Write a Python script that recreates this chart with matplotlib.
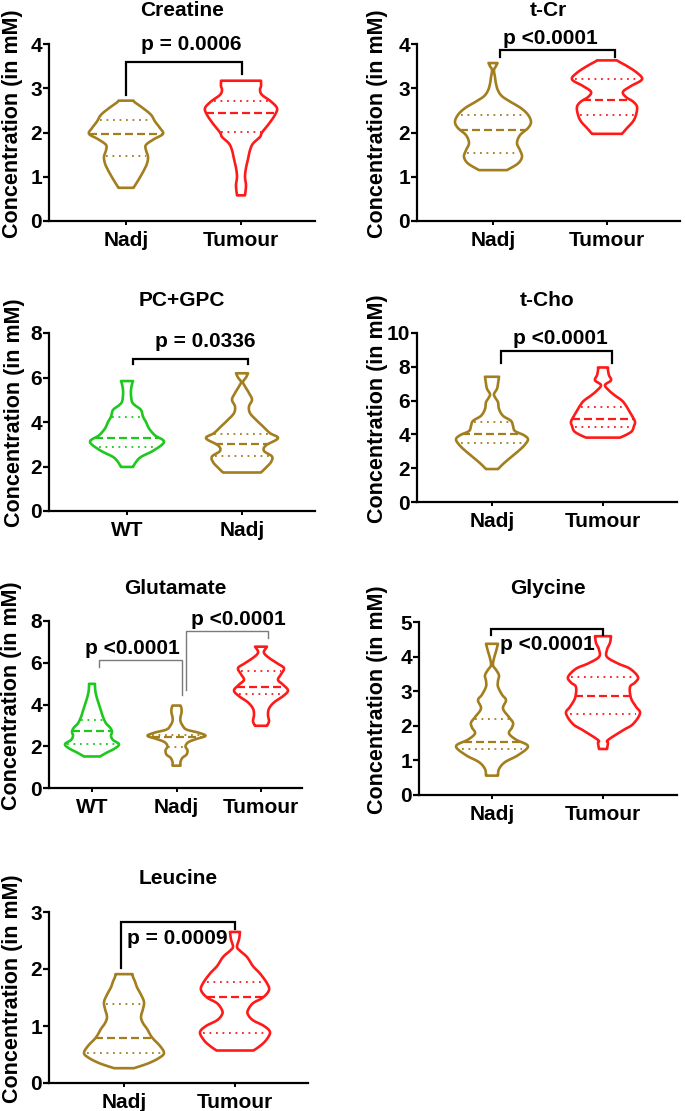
import numpy as np
import matplotlib
matplotlib.use("Agg")
import matplotlib.pyplot as plt

plt.rcParams['font.family'] = ['Liberation Sans', 'DejaVu Sans']
plt.rcParams['font.weight'] = 'bold'

OLIVE = '#A27E1E'
GREEN = '#1EC81E'
RED = '#FF1A1A'

YLABEL = 'Concentration (in mM)'

# ---------------- data (profiles: y levels, density/half-width, quartiles [q1, median, q3]) ----
creatine_groups = ['Nadj', 'Tumour']
creatine_nadj_y = [0.75, 0.95, 1.15, 1.3, 1.45, 1.6, 1.72, 1.85, 1.97, 2.1, 2.25, 2.4, 2.55, 2.68, 2.72]
creatine_nadj_w = [7.5, 13, 18, 21, 22, 20, 20, 28, 37, 34, 29, 25, 17, 9, 7.5]
creatine_nadj_q = [1.47, 1.97, 2.28]
creatine_tum_y = [0.58, 0.8, 1.0, 1.2, 1.4, 1.6, 1.75, 1.9, 2.0, 2.2, 2.4, 2.55, 2.7, 2.85, 2.96, 3.05, 3.17]
creatine_tum_w = [4, 5, 4, 5, 7, 9, 12, 19, 21, 28, 34, 36, 30, 21, 19, 20, 20]
creatine_tum_q = [2.01, 2.44, 2.71]

tcr_groups = ['Nadj', 'Tumour']
tcr_nadj_y = [1.15, 1.3, 1.45, 1.6, 1.76, 1.94, 2.1, 2.24, 2.4, 2.55, 2.7, 2.82, 2.95, 3.1, 3.25, 3.41, 3.5, 3.57]
tcr_nadj_w = [14, 25, 29, 27, 24, 27, 35, 38, 35, 28, 17, 9, 5, 3, 2, 1, 3, 4.5]
tcr_nadj_q = [1.54, 2.06, 2.40]
tcr_tum_y = [1.97, 2.1, 2.25, 2.4, 2.58, 2.7, 2.8, 2.92, 3.05, 3.2, 3.35, 3.5, 3.6, 3.63]
tcr_tum_w = [15, 20, 26, 29, 30, 26, 19, 16, 24, 35, 30, 20, 12, 10]
tcr_tum_q = [2.40, 2.73, 3.21]

pcgpc_groups = ['WT', 'Nadj']
pcgpc_wt_y = [1.98, 2.2, 2.43, 2.73, 3.11, 3.4, 3.71, 4.0, 4.24, 4.54, 4.75, 4.91, 5.2, 5.44, 5.7, 5.84]
pcgpc_wt_w = [6, 9, 14, 27, 37, 28, 22, 19, 16, 14, 8, 5, 4, 4, 5, 6]
pcgpc_wt_q = [2.88, 3.26, 4.23]
pcgpc_nadj_y = [1.73, 1.95, 2.2, 2.45, 2.7, 2.95, 3.27, 3.5, 3.8, 4.1, 4.4, 4.7, 5.0, 5.3, 5.6, 5.8, 6.0, 6.19]
pcgpc_nadj_w = [19, 24, 29, 30, 22, 24, 36, 28, 21, 14, 8, 7, 10, 7, 3, 1, 4, 6]
pcgpc_nadj_q = [2.46, 3.03, 3.44]

tcho_groups = ['Nadj', 'Tumour']
tcho_nadj_y = [1.95, 2.3, 2.7, 3.1, 3.4, 3.71, 3.95, 4.2, 4.5, 4.8, 5.1, 5.5, 5.9, 6.2, 6.39, 6.7, 7.0, 7.41]
tcho_nadj_w = [6, 12, 20, 28, 33, 36, 32, 23, 21, 19, 11, 7, 6, 3, 2, 5, 6, 7]
tcho_nadj_q = [3.48, 4.0, 4.75]
tcho_tum_y = [3.81, 4.0, 4.2, 4.5, 4.75, 5.1, 5.4, 5.7, 6.0, 6.3, 6.6, 6.92, 7.2, 7.5, 7.8, 7.96]
tcho_tum_w = [17, 24, 29, 31, 32, 29, 26, 23, 19, 12, 6, 2, 8, 6, 5, 5]
tcho_tum_q = [4.46, 4.91, 5.60]

glu_groups = ['WT', 'Nadj', 'Tumour']
glu_wt_y = [1.51, 1.7, 1.9, 2.1, 2.3, 2.5, 2.7, 2.9, 3.1, 3.4, 3.7, 4.0, 4.3, 4.6, 4.85, 4.99]
glu_wt_w = [8, 15, 23, 27, 21, 19, 20, 18, 14, 11, 9, 7, 5, 3.5, 3, 3]
glu_wt_q = [2.10, 2.71, 3.27]
glu_nadj_y = [1.07, 1.25, 1.45, 1.6, 1.8, 2.0, 2.2, 2.35, 2.5, 2.65, 2.8, 3.0, 3.2, 3.4, 3.6, 3.8, 3.95]
glu_nadj_w = [4, 4, 6, 10, 11, 9, 12, 20, 29, 22, 10, 6, 4, 4, 5, 5, 4]
glu_nadj_q = [1.95, 2.42, 2.56]
glu_tum_y = [2.98, 3.2, 3.5, 3.8, 4.1, 4.4, 4.67, 4.95, 5.18, 5.45, 5.74, 5.95, 6.2, 6.4, 6.55, 6.77]
glu_tum_w = [6, 8, 7, 8, 13, 22, 27, 22, 17, 20, 23, 17, 9, 4, 3, 6]
glu_tum_q = [4.50, 4.86, 5.61]

gly_groups = ['Nadj', 'Tumour']
gly_nadj_y = [0.56, 0.75, 0.95, 1.15, 1.41, 1.6, 1.78, 1.95, 2.09, 2.25, 2.5, 2.74, 2.9, 3.13, 3.3, 3.46, 3.62, 3.75, 3.95, 4.15, 4.37]
gly_nadj_w = [6, 7, 13, 26, 36, 24, 17, 20, 21, 17, 11, 14, 10, 6, 6, 7, 4, 1, 2, 4, 6]
gly_nadj_q = [1.32, 1.54, 2.19]
gly_tum_y = [1.33, 1.5, 1.59, 1.87, 2.05, 2.36, 2.55, 2.8, 3.12, 3.25, 3.41, 3.65, 3.8, 3.99, 4.2, 4.4, 4.59]
gly_tum_w = [4, 5, 5, 20, 30, 37, 33, 28, 27, 32, 35, 27, 15, 4, 4, 7, 8]
gly_tum_q = [2.33, 2.86, 3.41]

leu_groups = ['Nadj', 'Tumour']
leu_nadj_y = [0.26, 0.35, 0.45, 0.53, 0.65, 0.8, 0.95, 1.05, 1.16, 1.3, 1.42, 1.55, 1.68, 1.78, 1.86, 1.91]
leu_nadj_w = [10, 25, 36, 40, 36, 28, 23, 19, 17, 19, 20, 17, 13, 11, 9, 8.5]
leu_nadj_q = [0.53, 0.79, 1.39]
leu_tum_y = [0.57, 0.65, 0.75, 0.89, 1.0, 1.1, 1.2, 1.28, 1.4, 1.5, 1.63, 1.75, 1.92, 2.05, 2.21, 2.32, 2.39, 2.52, 2.65]
leu_tum_w = [18.5, 25, 31, 35, 29, 18, 13, 13, 18, 28, 34, 32, 25, 18, 12, 5, 2, 4, 5]
leu_tum_q = [0.88, 1.51, 1.78]

# ---------------- helpers ----------------
W, H = 685, 1111
fig = plt.figure(figsize=(W / 100, H / 100), dpi=100)


def make_axes(left, right, top, bottom):
    return fig.add_axes([left / W, 1 - bottom / H, (right - left) / W, (bottom - top) / H])


def smooth(ys, ws, n=10):
    pts = np.column_stack([ys, ws]).astype(float)
    P = np.vstack([pts[0], pts, pts[-1]])
    out = []
    t = np.linspace(0, 1, n, endpoint=False)[:, None]
    for i in range(1, len(P) - 2):
        p0, p1, p2, p3 = P[i - 1], P[i], P[i + 1], P[i + 2]
        out.append(0.5 * ((2 * p1) + (-p0 + p2) * t + (2 * p0 - 5 * p1 + 4 * p2 - p3) * t ** 2
                          + (-p0 + 3 * p1 - 3 * p2 + p3) * t ** 3))
    out.append(pts[-1:])
    s = np.vstack(out)
    return s[:, 0], np.clip(s[:, 1], 0.5, None)


def violin(ax, c, ys, ws, q, color, ppu):
    y, w = smooth(ys, ws)
    w = w / ppu
    ax.fill(np.r_[c - w, (c + w)[::-1]], np.r_[y, y[::-1]], facecolor='white',
            edgecolor=color, lw=1.9, joinstyle='round', zorder=3)
    for k, val in enumerate(q):
        hw = np.interp(val, ys, ws) / ppu
        if k == 1:
            ax.plot([c - hw, c + hw], [val, val], color=color, lw=1.6, dashes=(3.6, 1.8),
                    zorder=4, solid_capstyle='butt', dash_capstyle='butt')
        else:
            ax.plot([c - hw * 0.92, c + hw * 0.92], [val, val], color=color, lw=1.3,
                    dashes=(1.0, 2.6), zorder=4, dash_capstyle='butt')


def bracket(ax, x1, x2, ytop, yl, yr, color='black', lw=1.6):
    ax.plot([x1, x1, x2, x2], [yl, ytop, ytop, yr], color=color, lw=lw,
            solid_joinstyle='miter', zorder=5, clip_on=False)


def setup(rect, ticks_px, groups, ymax, ystep, title, title_y, ylab_x):
    left, right, top, bottom = rect
    ax = make_axes(left, right, top, bottom)
    ppu = (ticks_px[-1] - ticks_px[0]) / (len(ticks_px) - 1)
    x0 = -(ticks_px[0] - left) / ppu
    x1 = (len(ticks_px) - 1) + (right - ticks_px[-1]) / ppu
    ax.set_xlim(x0, x1)
    ax.set_ylim(0, ymax)
    ax.set_xticks(range(len(groups)))
    ax.set_xticklabels(groups, fontsize=15, fontweight='bold')
    ax.set_yticks(np.arange(0, ymax + 0.001, ystep))
    ax.set_yticklabels([f'{v:g}' for v in np.arange(0, ymax + 0.001, ystep)],
                       fontsize=15, fontweight='bold')
    for s in ['top', 'right']:
        ax.spines[s].set_visible(False)
    for s in ['left', 'bottom']:
        ax.spines[s].set_linewidth(1.6)
    ax.tick_params(axis='y', length=4, width=1.6, pad=1)
    ax.tick_params(axis='x', length=3, width=1.4, pad=4)
    ax.patch.set_alpha(0)
    fig.text(((left + right) / 2) / W, 1 - title_y / H, title, ha='center', va='center',
             fontsize=15, fontweight='bold')
    fig.text(ylab_x / W, 1 - ((top + bottom) / 2 - 9) / H, YLABEL, rotation=90,
             ha='center', va='center', fontsize=15.5, fontweight='bold')
    return ax, ppu


def ptext(ax, x, y, s):
    ax.text(x, y, s, ha='center', va='center', fontsize=15, fontweight='bold', zorder=6)


# ---------------- Creatine ----------------
ax, ppu = setup((49, 315, 44, 221), [126, 241], creatine_groups, 4, 1, 'Creatine', 11, 13)
violin(ax, 0, creatine_nadj_y, creatine_nadj_w, creatine_nadj_q, OLIVE, ppu)
violin(ax, 1, creatine_tum_y, creatine_tum_w, creatine_tum_q, RED, ppu)
bracket(ax, 0.0, 1.01, 3.59, 2.85, 3.32)
ptext(ax, 0.57, 3.98, 'p = 0.0006')

# ---------------- t-Cr ----------------
ax, ppu = setup((417, 680, 44, 221), [493, 607], tcr_groups, 4, 1, 't-Cr', 11, 378)
violin(ax, 0, tcr_nadj_y, tcr_nadj_w, tcr_nadj_q, OLIVE, ppu)
violin(ax, 1, tcr_tum_y, tcr_tum_w, tcr_tum_q, RED, ppu)
bracket(ax, 0.06, 1.07, 3.86, 3.70, 3.70)
ptext(ax, 0.5, 4.13, 'p <0.0001')

# ---------------- PC+GPC ----------------
ax, ppu = setup((49, 315, 333, 511), [127, 242], pcgpc_groups, 8, 2, 'PC+GPC', 300, 15)
violin(ax, 0, pcgpc_wt_y, pcgpc_wt_w, pcgpc_wt_q, GREEN, ppu)
violin(ax, 1, pcgpc_nadj_y, pcgpc_nadj_w, pcgpc_nadj_q, OLIVE, ppu)
bracket(ax, 0.05, 1.05, 6.83, 6.62, 6.62)
ptext(ax, 0.68, 7.6, 'p = 0.0336')

# ---------------- t-Cho ----------------
ax, ppu = setup((417, 677, 333, 502), [492, 603], tcho_groups, 10, 2, 't-Cho', 300, 378)
violin(ax, 0, tcho_nadj_y, tcho_nadj_w, tcho_nadj_q, OLIVE, ppu)
violin(ax, 1, tcho_tum_y, tcho_tum_w, tcho_tum_q, RED, ppu)
bracket(ax, 0.08, 1.08, 8.94, 8.23, 8.23)
ptext(ax, 0.62, 9.7, 'p <0.0001')

# ---------------- Glutamate ----------------
ax, ppu = setup((49, 302, 621, 788), [92, 177, 261], glu_groups, 8, 2, 'Glutamate', 589, 12)
violin(ax, 0, glu_wt_y, glu_wt_w, glu_wt_q, GREEN, ppu)
violin(ax, 1, glu_nadj_y, glu_nadj_w, glu_nadj_q, OLIVE, ppu)
violin(ax, 2, glu_tum_y, glu_tum_w, glu_tum_q, RED, ppu)
bracket(ax, 0.08, 1.06, 6.14, 5.82, 4.46, color='#7a7a7a', lw=1.0)
bracket(ax, 1.11, 2.08, 7.52, 4.70, 7.17, color='#7a7a7a', lw=1.0)
ptext(ax, 0.48, 6.7, 'p <0.0001')
ptext(ax, 1.73, 8.07, 'p <0.0001')

# ---------------- Glycine ----------------
ax, ppu = setup((419, 677, 622, 795), [492, 603], gly_groups, 5, 1, 'Glycine', 589, 378)
violin(ax, 0, gly_nadj_y, gly_nadj_w, gly_nadj_q, OLIVE, ppu)
violin(ax, 1, gly_tum_y, gly_tum_w, gly_tum_q, RED, ppu)
bracket(ax, -0.01, 1.0, 4.81, 4.62, 4.62)
ptext(ax, 0.5, 4.36, 'p <0.0001')

# ---------------- Leucine ----------------
ax, ppu = setup((49, 308, 912, 1083), [124, 235], leu_groups, 3, 1, 'Leucine', 878, 13)
violin(ax, 0, leu_nadj_y, leu_nadj_w, leu_nadj_q, OLIVE, ppu)
violin(ax, 1, leu_tum_y, leu_tum_w, leu_tum_q, RED, ppu)
bracket(ax, -0.03, 1.0, 2.82, 2.01, 2.71)
ptext(ax, 0.48, 2.53, 'p = 0.0009')

fig.savefig('out.png', dpi=100)
